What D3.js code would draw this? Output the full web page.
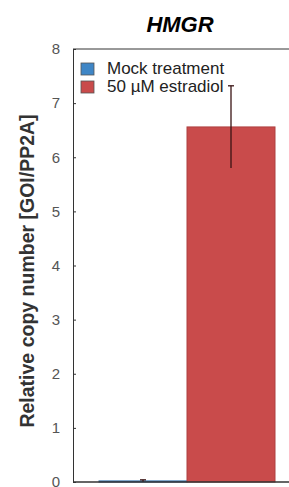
<!DOCTYPE html>
<html>
<head>
<meta charset="utf-8">
<script src="https://cdn.jsdelivr.net/npm/d3@7"></script>
<style>
  body { margin: 0; background: #fff; }
  svg { display: block; font-family: "Liberation Sans", Arial, sans-serif; }
  .y-axis text { fill: #555; font-size: 15px; }
  .y-axis path, .y-axis line { stroke: #333; }
</style>
</head>
<body>
<svg width="289" height="487"></svg>
<script>
// chart data
const title = "HMGR";
const series = ["Mock treatment", "50 \u00b5M estradiol"];
const means = [0.02, 6.56];
const errors = [0.02, 0.76];
const colors = ["#3f86c6", "#c94b4b"];
const yTicks = [0, 1, 2, 3, 4, 5, 6, 7, 8];

const svg = d3.select("svg");

const scaleY = d3.scaleLinear()
  .domain([0, 8])
  .range([482, 49]);

// bars of the single gene group, side by side
const scaleX = d3.scaleBand()
  .domain(series)
  .range([99, 275])
  .padding(0);

// frame: top line and bottom line run off the right edge
svg.append("line")
  .attr("x1", 73).attr("x2", 289)
  .attr("y1", scaleY(8)).attr("y2", scaleY(8))
  .attr("stroke", "#333");

// bars
svg.selectAll("rect.bar")
  .data(series)
  .enter()
  .append("rect")
  .attr("class", "bar")
  .attr("x", (d) => scaleX(d))
  .attr("width", scaleX.bandwidth())
  .attr("y", (d, i) => scaleY(means[i]))
  .attr("height", (d, i) => scaleY(0) - scaleY(means[i]))
  .attr("fill", (d, i) => colors[i])
  .attr("stroke", (d, i) => d3.color(colors[i]).darker(0.4))
  .attr("stroke-width", 1);

// error bars, cap on top only
const errs = svg.selectAll("g.err")
  .data(series)
  .enter()
  .append("g")
  .attr("class", "err")
  .attr("transform", (d) => `translate(${scaleX(d) + scaleX.bandwidth() / 2},0)`);

errs.append("line")
  .attr("y1", (d, i) => scaleY(means[i] + errors[i]))
  .attr("y2", (d, i) => scaleY(Math.max(0, means[i] - errors[i])))
  .attr("stroke", "#3a1414")
  .attr("stroke-width", 1.3);

errs.append("line")
  .attr("x1", -3).attr("x2", 3)
  .attr("y1", (d, i) => scaleY(means[i] + errors[i]))
  .attr("y2", (d, i) => scaleY(means[i] + errors[i]))
  .attr("stroke", "#3a1414")
  .attr("stroke-width", 1.3);

// bottom axis line
svg.append("line")
  .attr("x1", 73).attr("x2", 289)
  .attr("y1", scaleY(0)).attr("y2", scaleY(0))
  .attr("stroke", "#333")
  .attr("stroke-width", 1.5);

// left axis with inward ticks
const axisY = d3.axisLeft(scaleY)
  .tickValues(yTicks)
  .tickSize(-3)
  .tickSizeOuter(0)
  .tickPadding(13);

svg.append("g")
  .attr("class", "y-axis")
  .attr("transform", "translate(73,0)")
  .call(axisY);

// title
svg.append("text")
  .attr("x", 180)
  .attr("y", 32)
  .attr("text-anchor", "middle")
  .style("font-size", "22px")
  .style("font-weight", "bold")
  .style("font-style", "italic")
  .text(title);

// y axis title
svg.append("text")
  .attr("transform", "translate(34,271) rotate(-90)")
  .attr("text-anchor", "middle")
  .style("font-size", "19.5px")
  .style("font-weight", "bold")
  .attr("fill", "#333")
  .text("Relative copy number [GOI/PP2A]");

// legend
const legend = svg.selectAll("g.legend")
  .data(series)
  .enter()
  .append("g")
  .attr("class", "legend")
  .attr("transform", (d, i) => `translate(81,${63 + i * 18})`);

legend.append("rect")
  .attr("width", 13)
  .attr("height", 12)
  .attr("fill", (d, i) => colors[i])
  .attr("stroke", "#555")
  .attr("stroke-width", 0.8);

legend.append("text")
  .attr("x", 26)
  .attr("y", 11)
  .style("font-size", "17px")
  .attr("fill", "#222")
  .text((d) => d);
</script>
</body>
</html>
